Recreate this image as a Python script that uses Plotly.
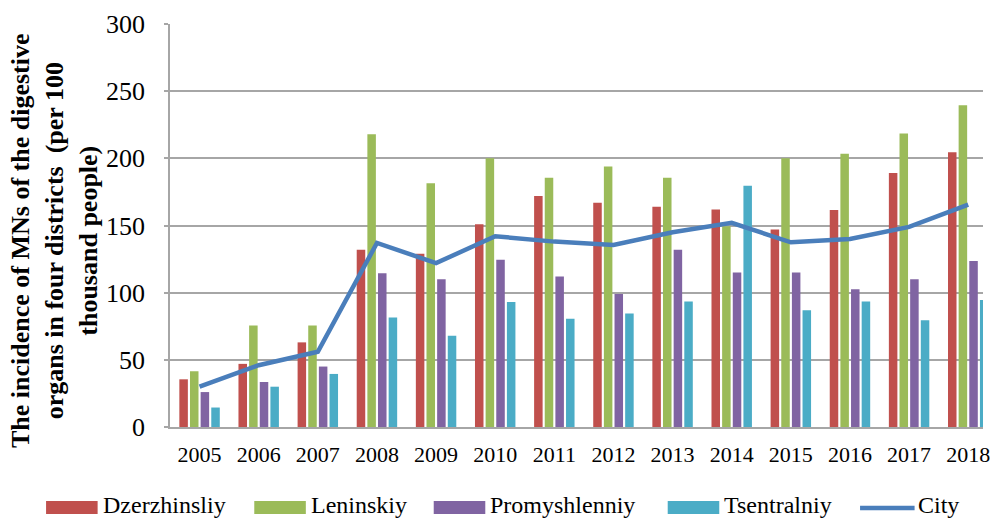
import plotly.graph_objects as go

# Incidence of malignant neoplasms of the digestive organs, per 100 thousand people
years = ["2005", "2006", "2007", "2008", "2009", "2010", "2011",
         "2012", "2013", "2014", "2015", "2016", "2017", "2018"]

dzerzhinsliy = [35.5, 47, 63, 132, 129, 151, 172, 167, 164, 162, 147, 161.5, 189, 204.5]
leninskiy = [41.5, 75.5, 75.5, 218, 181.5, 200, 185.5, 194, 185.5, 149.5, 200, 203.5, 218.5, 239.5]
promyshlenniy = [26, 33.5, 45, 114.5, 110, 124.5, 112, 99, 132, 115, 115, 102.5, 110, 123.5]
tsentralniy = [14.5, 30, 39.5, 81.5, 68, 93, 80.5, 84.5, 93.5, 179.5, 87, 93.5, 79.5, 94.5]
city = [30, 46, 56, 137, 122, 142, 138, 135.5, 145, 152, 137.5, 140, 149, 165.5]

bar_series = [
    ("Dzerzhinsliy", dzerzhinsliy, "#C0504D"),
    ("Leninskiy", leninskiy, "#9BBB59"),
    ("Promyshlenniy", promyshlenniy, "#8064A2"),
    ("Tsentralniy", tsentralniy, "#4BACC6"),
]
line_name, line_color = "City", "#4A7EBB"

SERIF = "Liberation Serif, Times New Roman, serif"
GRID = "#A6A6A6"

W, H = 990, 520
L, R, T, B = 170, 0, 24, 93

fig = go.Figure()
for name, vals, color in bar_series:
    fig.add_trace(go.Bar(x=years, y=vals, name=name, marker_color=color,
                         marker_line_width=0))
fig.add_trace(go.Scatter(x=years, y=city, name=line_name, mode="lines",
                         line=dict(color=line_color, width=4.5)))

# pixel -> paper helpers for the hand-placed legend and axis title
pw, ph = W - L - R, H - T - B
def px_x(p):
    return (p - L) / pw
def px_y(p):
    return (H - B - p) / ph

annotations = [dict(
    text="The incidence of MNs of the digestive<br>organs in four districts  (per 100<br>thousand people)",
    textangle=-90, xref="paper", yref="paper", x=px_x(54), y=px_y(240),
    xanchor="center", yanchor="middle", showarrow=False,
    font=dict(family=SERIF, size=26, color="#000000", weight="bold"),
)]
shapes = []

# legend row along the bottom
swatch_left = [45, 255, 436, 672]
for (name, _, color), x0 in zip(bar_series, swatch_left):
    shapes.append(dict(type="rect", xref="paper", yref="paper",
                       x0=px_x(x0), x1=px_x(x0 + 52), y0=px_y(514), y1=px_y(501),
                       fillcolor=color, line_width=0))
    annotations.append(dict(text=name, xref="paper", yref="paper",
                            x=px_x(x0 + 55), y=px_y(505), xanchor="left",
                            yanchor="middle", showarrow=False,
                            font=dict(family=SERIF, size=24, color="#000000")))
shapes.append(dict(type="line", xref="paper", yref="paper",
                   x0=px_x(866), x1=px_x(921), y0=px_y(508), y1=px_y(508),
                   line=dict(color=line_color, width=4.5)))
annotations.append(dict(text=line_name, xref="paper", yref="paper",
                        x=px_x(922), y=px_y(505), xanchor="left",
                        yanchor="middle", showarrow=False,
                        font=dict(family=SERIF, size=24, color="#000000")))

fig.update_layout(
    width=W, height=H,
    margin=dict(l=L, r=R, t=T, b=B),
    paper_bgcolor="white", plot_bgcolor="white",
    barmode="group", bargap=0.28, bargroupgap=0.2,
    showlegend=False,
    annotations=annotations, shapes=shapes,
    xaxis=dict(
        type="category", range=[-0.5, 13.25], autorange=False,
        showline=True, linecolor=GRID, linewidth=1.5,
        showgrid=False, ticks="",
        tickfont=dict(family=SERIF, size=22, color="#000000"),
        ticklabelstandoff=7,
    ),
    yaxis=dict(
        range=[0, 300], tickvals=[0, 50, 100, 150, 200, 250, 300],
        showline=True, linecolor=GRID, linewidth=1.5,
        showgrid=True, gridcolor=GRID, gridwidth=1.5, zeroline=False,
        ticks="outside", ticklen=4, tickcolor=GRID, tickwidth=1.5,
        tickfont=dict(family=SERIF, size=26, color="#000000"),
        ticklabelstandoff=14,
    ),
)

fig.write_html("out.html")
